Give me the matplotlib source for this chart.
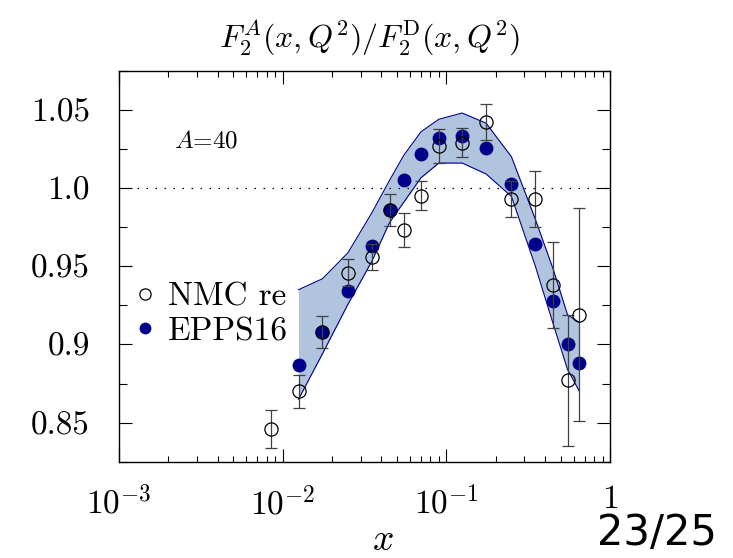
import numpy as np
import matplotlib
matplotlib.use('Agg')
import matplotlib.pyplot as plt
from matplotlib.ticker import LogLocator, NullFormatter, MultipleLocator

plt.rcParams['font.family'] = 'serif'
plt.rcParams['font.serif'] = ['cmr10']
plt.rcParams['mathtext.fontset'] = 'cm'
plt.rcParams['axes.unicode_minus'] = False

# NMC re-analysis, Ca/D
x_nmc = [0.0085, 0.0125, 0.0175, 0.025, 0.035, 0.045, 0.055, 0.07,
         0.09, 0.125, 0.175, 0.25, 0.35, 0.45, 0.55, 0.65]
r_nmc = [0.846, 0.870, 0.908, 0.946, 0.956, 0.986, 0.973, 0.995,
         1.027, 1.029, 1.042, 0.993, 0.993, 0.938, 0.877, 0.919]
e_nmc = [0.012, 0.0105, 0.010, 0.0084, 0.0085, 0.010, 0.011, 0.0093,
         0.011, 0.0093, 0.0115, 0.0115, 0.018, 0.0277, 0.042, 0.068]

# EPPS16 central + band
x_epps = x_nmc[1:]
r_epps = [0.887, 0.908, 0.934, 0.963, 0.986, 1.005, 1.022, 1.032,
          1.033, 1.0255, 1.0026, 0.964, 0.928, 0.900, 0.888]
band_up = [0.935, 0.942, 0.9585, 0.984, 1.005, 1.021, 1.036, 1.044,
           1.048, 1.0415, 1.020, 0.980, 0.948, 0.919, 0.914]
band_lo = [0.865, 0.894, 0.9255, 0.953, 0.978, 0.991, 1.0066, 1.016,
           1.016, 1.009, 0.9946, 0.950, 0.913, 0.884, 0.870]

yticks = [0.85, 0.9, 0.95, 1.0, 1.05]
ylabels = ['0.85', '0.9', '0.95', '1.0', '1.05']
xticks = [1e-3, 1e-2, 1e-1, 1]
xlabels = [r'$10^{-3}$', r'$10^{-2}$', r'$10^{-1}$', r'$1$']

W, H = 733, 558
fig = plt.figure(figsize=(W / 100, H / 100), dpi=100)
ax = fig.add_axes([119 / W, 1 - 461.7 / H, 491 / W, 390.9 / H])

ax.fill_between(x_epps, band_lo, band_up, color='#b0c4de', lw=0, zorder=1)
ax.plot(x_epps, band_up, color='#00008b', lw=0.8, zorder=2)
ax.plot(x_epps, band_lo, color='#00008b', lw=0.8, zorder=2)
ax.axhline(1.0, color='k', lw=0.9, ls=(0, (1.2, 6)), zorder=2)

epps, = ax.plot(x_epps, r_epps, 'o', color='#00008b', ms=10, mew=0,
                zorder=3)
nmc = ax.errorbar(x_nmc, r_nmc, yerr=e_nmc, fmt='o', mfc='none', mec='k',
                  mew=0.9, ms=9.5, ecolor='#404040', elinewidth=0.9,
                  capsize=4.5, capthick=0.9, zorder=4)

ax.set_xscale('log')
ax.set_xlim(1e-3, 1)
ax.set_ylim(0.825, 1.075)
ax.set_xticks(xticks, xlabels)
ax.xaxis.set_minor_locator(LogLocator(base=10, subs=np.arange(2, 10)))
ax.xaxis.set_minor_formatter(NullFormatter())
ax.set_yticks(yticks, ylabels)
ax.yaxis.set_minor_locator(MultipleLocator(0.025))

ax.tick_params(which='both', direction='in', top=True, right=True,
               width=0.8, color='k')
ax.tick_params(axis='x', which='major', length=9.5, pad=17, labelsize=24)
ax.tick_params(axis='x', which='minor', length=4.2)
ax.tick_params(axis='y', which='major', length=9.5, pad=21, labelsize=24)
ax.tick_params(axis='y', which='minor', length=6)
for s in ax.spines.values():
    s.set_linewidth(1.0)

ax.legend([nmc[0], epps], ['NMC re', 'EPPS16'], loc='center left',
          bbox_to_anchor=(0.026, 0.377), frameon=False, fontsize=24,
          handlelength=0.8, handletextpad=0.3, labelspacing=0.15,
          borderpad=0, borderaxespad=0, markerscale=0.85, numpoints=1)

ax.text(0.177, 0.82, r'$A$=40', transform=ax.transAxes, fontsize=18,
        ha='center', va='center')

fig.text(369 / W, 1 - 37 / H, r'$F_2^A(x,Q^2)/F_2^{\rm D}(x,Q^2)$',
         fontsize=23, ha='center', va='center')
fig.text(383 / W, 1 - 540 / H, r'$x$', fontsize=27, ha='center', va='center')
fig.text(717 / W, 1 - 545 / H, '23/25', fontsize=30, ha='right',
         va='baseline', family='DejaVu Sans')

fig.savefig('out.png', dpi=100)
